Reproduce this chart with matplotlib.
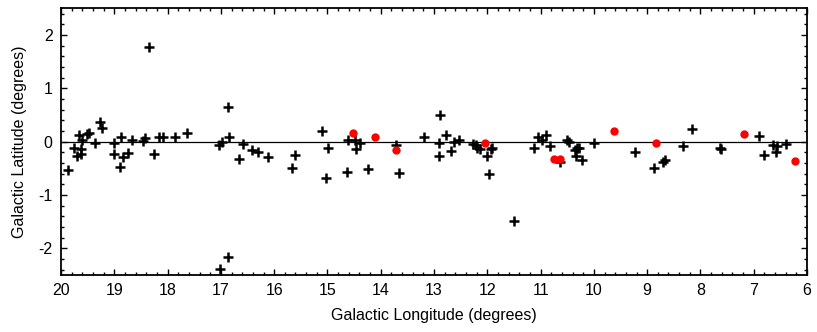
import matplotlib.pyplot as plt
from matplotlib.ticker import MultipleLocator

plt.rcParams['font.family'] = ['Liberation Sans', 'DejaVu Sans']
plt.rcParams['axes.unicode_minus'] = False

# black crosses: galactic longitude / latitude (degrees)
cross_l = [19.87, 19.76, 19.70, 19.67, 19.62, 19.62, 19.61, 19.51, 19.47, 19.36,
           19.27, 19.24, 19.00, 19.00, 18.88, 18.89, 18.83, 18.74, 18.66, 18.46,
           18.43, 18.34, 18.26, 18.17, 18.08, 17.86, 17.64, 17.04, 16.98, 17.02,
           16.86, 16.86, 16.84, 16.66, 16.59, 16.41, 16.31, 16.12, 15.66, 15.61,
           15.10, 15.03, 14.99, 14.63, 14.61, 14.49, 14.46, 14.39, 14.24, 13.72,
           13.66, 13.18, 12.91, 12.89, 12.91, 12.78, 12.69, 12.63, 12.54, 12.26,
           12.22, 12.19, 12.13, 12.01, 11.96, 11.94, 11.91, 11.50, 11.12, 11.05,
           10.98, 10.90, 10.83, 10.63, 10.50, 10.47, 10.36, 10.31, 10.33, 10.28,
           10.22, 10.00, 9.22, 8.88, 8.70, 8.67, 8.33, 8.16, 7.64, 7.61,
           6.91, 6.80, 6.63, 6.59, 6.56, 6.39]
cross_b = [-0.53, -0.12, -0.27, 0.13, -0.23, -0.13, 0.03, 0.14, 0.17, -0.03,
           0.36, 0.26, -0.03, -0.24, 0.08, -0.47, -0.29, -0.22, 0.03, 0.02,
           0.06, 1.78, -0.24, 0.09, 0.08, 0.08, 0.17, -0.06, -0.01, -2.38,
           -2.16, 0.65, 0.08, -0.33, -0.04, -0.16, -0.19, -0.29, -0.50, -0.25,
           0.20, -0.68, -0.12, -0.57, 0.03, 0.03, -0.14, -0.02, -0.51, -0.07,
           -0.59, 0.08, -0.03, 0.50, -0.26, 0.13, -0.17, -0.01, 0.03, -0.04,
           -0.07, -0.11, -0.13, -0.27, -0.61, -0.14, -0.11, -1.48, -0.11, 0.08,
           0.03, 0.13, -0.09, -0.39, 0.04, 0.00, -0.16, -0.12, -0.26, -0.11,
           -0.34, -0.02, -0.20, -0.49, -0.38, -0.35, -0.09, 0.24, -0.11, -0.14,
           0.11, -0.25, -0.07, -0.20, -0.09, -0.04]

# red dots
dot_l = [14.53, 14.11, 13.71, 12.04, 10.74, 10.64, 9.63, 8.84, 7.18, 6.22]
dot_b = [0.16, 0.09, -0.16, -0.03, -0.33, -0.33, 0.20, -0.02, 0.14, -0.36]

fig = plt.figure(figsize=(8.17, 3.32), dpi=100)
ax = fig.add_axes([0.0747, 0.1717, 0.9131, 0.8033])

ax.axhline(0, color='black', lw=0.9, zorder=1)
ax.plot(cross_l, cross_b, '+', color='black', ms=7, mew=1.8, zorder=2)
ax.plot(dot_l, dot_b, 'o', color='#ff0000', ms=6, mec='none', zorder=3)

ax.set_xlim(20, 6)
ax.set_ylim(-2.5, 2.5)
ax.xaxis.set_major_locator(MultipleLocator(1))
ax.xaxis.set_minor_locator(MultipleLocator(0.2))
ax.yaxis.set_major_locator(MultipleLocator(1))
ax.yaxis.set_minor_locator(MultipleLocator(0.2))
ax.tick_params(which='both', direction='in', top=True, right=True, width=1)
ax.tick_params(which='major', length=4.5, labelsize=11.5, pad=6)
ax.tick_params(which='minor', length=2.5)
for s in ax.spines.values():
    s.set_linewidth(1.3)

ax.set_xlabel('Galactic Longitude (degrees)', fontsize=11.5, labelpad=7)
ax.set_ylabel('Galactic Latitude (degrees)', fontsize=11.5, labelpad=8)

fig.savefig('out.png', dpi=100)
